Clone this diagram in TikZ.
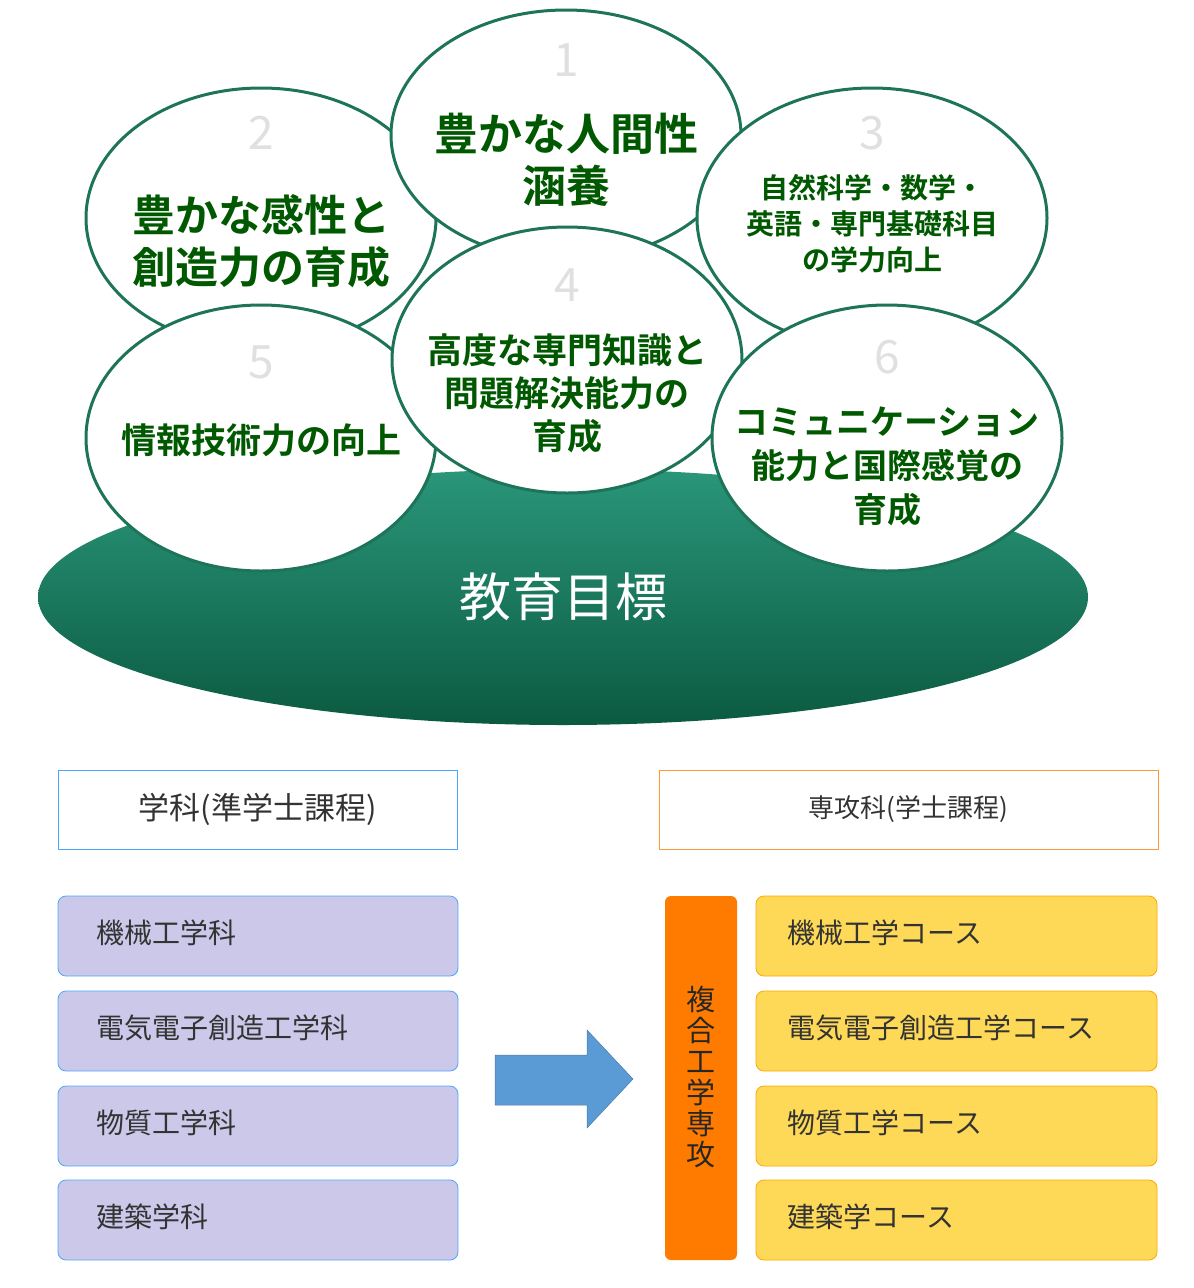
\documentclass[tikz,border=0pt]{standalone}
\usepackage{fontspec}
\setmainfont{Noto Sans CJK JP}[BoldFont={Noto Sans CJK JP Bold}]
\begin{document}
\begin{tikzpicture}[x=1pt,y=-1pt,
  num/.style={text=black!12,font=\fontsize{46}{46}\selectfont},
  ct/.style 2 args={text=green!35!black,font=\bfseries\fontsize{#1}{#2}\selectfont,align=center},
  bb/.style={draw=blue!50!cyan!70!white,fill=cyan!15!blue!20!white,rounded corners=8pt,line width=0.8pt},
  yb/.style={draw=orange!70!yellow,fill=yellow!60!orange!65!white,rounded corners=8pt,line width=0.8pt},
  bt/.style={font=\fontsize{28}{28}\selectfont,text=black!80,anchor=west}]
\useasboundingbox (0,0) rectangle (1194,1288);
\definecolor{gtop}{HTML}{2A967A}\definecolor{gbot}{HTML}{0B5A40}
\definecolor{cstroke}{HTML}{1E7458}
\tikzset{circ/.style={draw=cstroke,line width=3pt,fill=white}}
\shade[top color=gtop,bottom color=gbot] (563,597) ellipse [x radius=525,y radius=128];
\node[text=white,font=\fontsize{52}{52}\selectfont] (goal) at (563,597) {教育目標};
\draw[circ] (261,218) ellipse [x radius=175,y radius=130];
\draw[circ] (566,135) ellipse [x radius=175,y radius=125];
\draw[circ] (872,218) ellipse [x radius=175,y radius=130];
\draw[circ] (261,438) ellipse [x radius=175,y radius=133];
\draw[circ] (567,360) ellipse [x radius=175,y radius=133];
\draw[circ] (887,438) ellipse [x radius=175,y radius=133];
\node[num] (n1) at (566,60) {1};
\node[num] (n2) at (261,133) {2};
\node[num] (n3) at (872,133) {3};
\node[num] (n4) at (567,285) {4};
\node[num] (n5) at (261,362) {5};
\node[num] (n6) at (887,357) {6};
\node[ct={44}{52}] (t1) at (566,160) {豊かな人間性\\涵養};
\node[ct={43}{52}] (t2) at (261,241) {豊かな感性と\\創造力の育成};
\node[ct={28}{36}] (t3) at (872,224) {自然科学・数学・\\英語・専門基礎科目\\の学力向上};
\node[ct={35}{43}] (t4) at (567,393) {高度な専門知識と\\問題解決能力の\\育成};
\node[ct={35}{43}] (t5) at (261,440) {情報技術力の向上};
\node[ct={34}{44}] (t6) at (887,466) {コミュニケーション\\能力と国際感覚の\\育成};
\node[draw=blue!50!cyan!70!white,line width=0.8pt,minimum width=399pt,minimum height=79pt,font=\fontsize{31}{31}\selectfont,text=black!80] (h1) at (257.5,809.5) {学科(準学士課程)};
\node[draw=orange!80,line width=0.8pt,minimum width=499pt,minimum height=79pt,font=\fontsize{26}{26}\selectfont,text=black!80] (h2) at (908.5,809.5) {専攻科(学士課程)};
\foreach \y/\a/\b [count=\i] in {936/機械工学科/機械工学コース,1031/電気電子創造工学科/電気電子創造工学コース,1126/物質工学科/物質工学コース,1220/建築学科/建築学コース}{
  \draw[bb] (58,\y-40) rectangle (458,\y+40);
  \node[bt] (l\i) at (93,\y-3) {\a};
  \draw[yb] (756,\y-40) rectangle (1157,\y+40);
  \node[bt] (r\i) at (784,\y-3) {\b};
}
\fill[orange!85!red!90!yellow,rounded corners=6pt] (665,896) rectangle (737,1260);
\node[font=\fontsize{29}{31}\selectfont,text=black!85,align=center] (v) at (701,1077) {複\\合\\工\\学\\専\\攻};
\definecolor{arr}{HTML}{5B9BD5}
\fill[arr,draw=arr!80!black,line width=0.5pt] (495,1055) -- (587,1055) -- (587,1030) -- (633,1079) -- (587,1128) -- (587,1105) -- (495,1105) -- cycle;
\end{tikzpicture}
\end{document}
